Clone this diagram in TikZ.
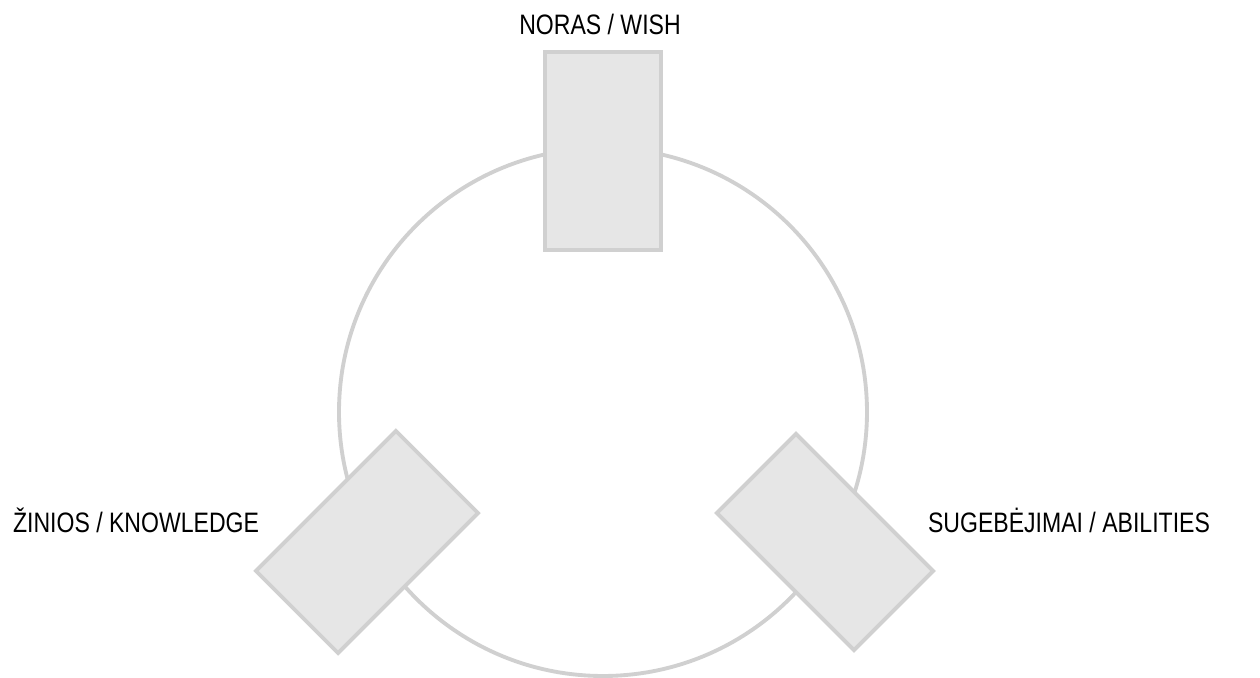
\documentclass[tikz,border=0pt]{standalone}
\usepackage{fontspec}
\setmainfont[FakeStretch=0.82]{Liberation Sans}
\usetikzlibrary{positioning}

\definecolor{ringgray}{HTML}{D0D0D0}
\definecolor{boxgray}{HTML}{E6E6E6}

\begin{document}
\begin{tikzpicture}[
  font=\fontsize{8}{9.6}\selectfont,
  % ring and the three boxes sitting on it
  ring/.style={
    draw=ringgray, circle, line width=1.1pt,
    minimum size=5.28cm, inner sep=0pt
  },
  factor/.style={
    draw=ringgray, fill=boxgray, line width=1.1pt,
    minimum width=1.16cm, minimum height=1.98cm, inner sep=0pt
  },
  caption/.style={anchor=base, inner sep=0pt, text=black},
]

% fixed canvas, 1 px = 0.01 cm
\useasboundingbox (0,0) rectangle (12.6,6.78);

% --- Ring ---
\node[ring] (ring) at (6.03,2.66) {};

% ---------------------------------------------------------------
% Boxes: top upright, lower ones turned by 45 degrees
% ---------------------------------------------------------------
\node[factor] (wish) at (6.03,5.27) {};
\node[factor, rotate=-45] (knowledge) at (3.67,1.36) {};
\node[factor, rotate=45, minimum width=1.12cm, minimum height=1.94cm]
  (abilities) at (8.25,1.36) {};

% --- Labels ---
\node[caption] (wishlabel) at (6.00,6.43) {NORAS / WISH};
\node[caption] (knowlabel) at (1.36,1.45) {ŽINIOS / KNOWLEDGE};
\node[caption] (abilabel) at (10.69,1.45) {SUGEBĖJIMAI / ABILITIES};

\end{tikzpicture}
\end{document}
